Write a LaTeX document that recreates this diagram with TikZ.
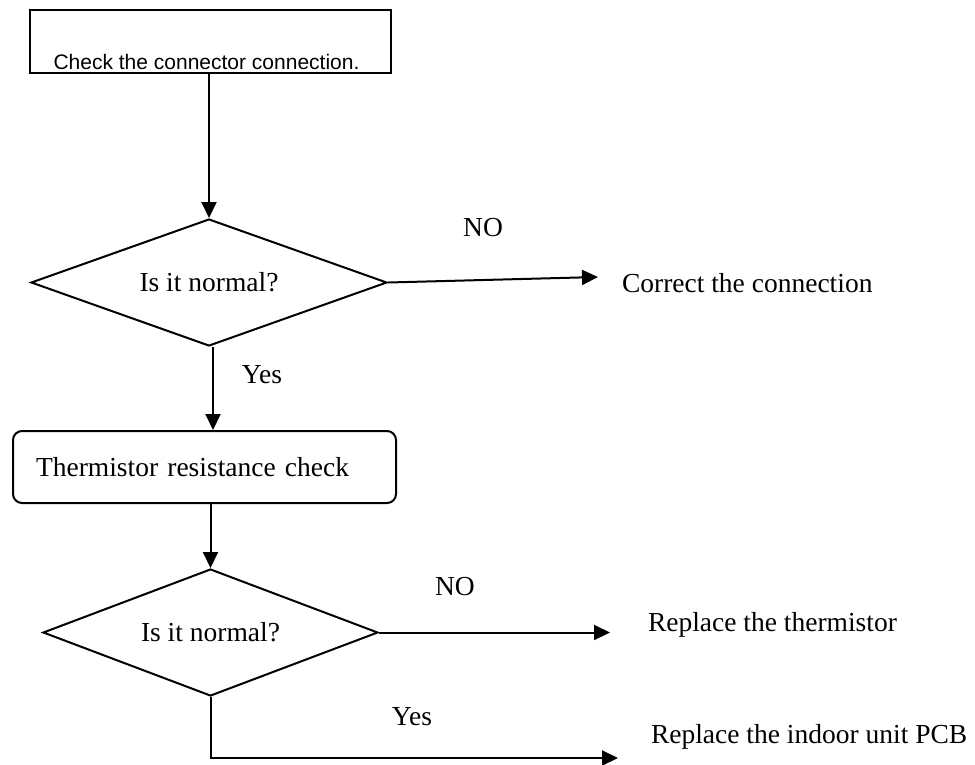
\documentclass[tikz,border=0pt]{standalone}
\usepackage{fontspec}
\setmainfont{Liberation Serif}
\newfontfamily\boxfont{Liberation Sans}
\usetikzlibrary{positioning,arrows.meta,shapes.geometric}

\tikzset{
  txt/.style={font=\fontsize{27.5}{33}\selectfont, inner sep=0pt},
  stepbox/.style={draw, rectangle, inner sep=0pt},
  procbox/.style={draw, rectangle, rounded corners=9pt, minimum width=383pt,
    minimum height=72pt, text width=337pt, inner xsep=23pt, align=left,
    font=\fontsize{27.5}{33}\selectfont},
  decision/.style={draw, diamond, inner sep=0pt, aspect=2.8,
    font=\fontsize{27.5}{33}\selectfont},
}

\begin{document}
\begin{tikzpicture}[x=1pt, y=-1pt, line width=2pt,
  >={Triangle[length=16pt,width=15pt]}]
\useasboundingbox (0,0) rectangle (975,764);

% First step
\node[stepbox, minimum width=361pt, minimum height=63pt] (check) at (210.5,41.5) {};
\node[font=\boxfont\fontsize{21}{25}\selectfont, inner sep=0pt] (checktxt)
    at (206.5,62) {Check the connector connection.};

% Decision 1
\node[decision, minimum width=356pt, minimum height=127pt] (q1) at (209,282.5) {Is it normal?};
\draw[->] (q1.north |- check.south) -- (q1.north);

\node[txt, anchor=west] (fix1) at (621,283) {Correct the connection};
\node[txt] (no1) at (483,228) {NO};
\draw[->] (q1.east) -- ([xshift=-23pt,yshift=6pt]fix1.west);

% Thermistor check
\node[procbox] (thermo) at (204.5,467) {Thermistor resistance check};
\draw[->] ([xshift=4pt]q1.south) -- ([xshift=4pt]q1.south |- thermo.north);
\node[txt] (yes1) at (262,375) {Yes};

% Decision 2
\node[decision, minimum width=335pt, minimum height=127pt] (q2) at (210.5,632.5) {Is it normal?};
\draw[->] (q2.north |- thermo.south) -- (q2.north);

\node[txt, anchor=west] (fix2) at (647,625) {Replace the thermistor};
\node[txt] (no2) at (455,587) {NO};
\draw[->] (q2.east) -- ([xshift=-37pt]fix2.west |- q2.east);

\node[txt, anchor=west] (fix3) at (650,737) {Replace the indoor unit PCB};
\node[txt] (yes2) at (412,717) {Yes};
\draw[->] (q2.south) |- ([xshift=-32pt,yshift=-21pt]fix3.west);
\end{tikzpicture}
\end{document}
